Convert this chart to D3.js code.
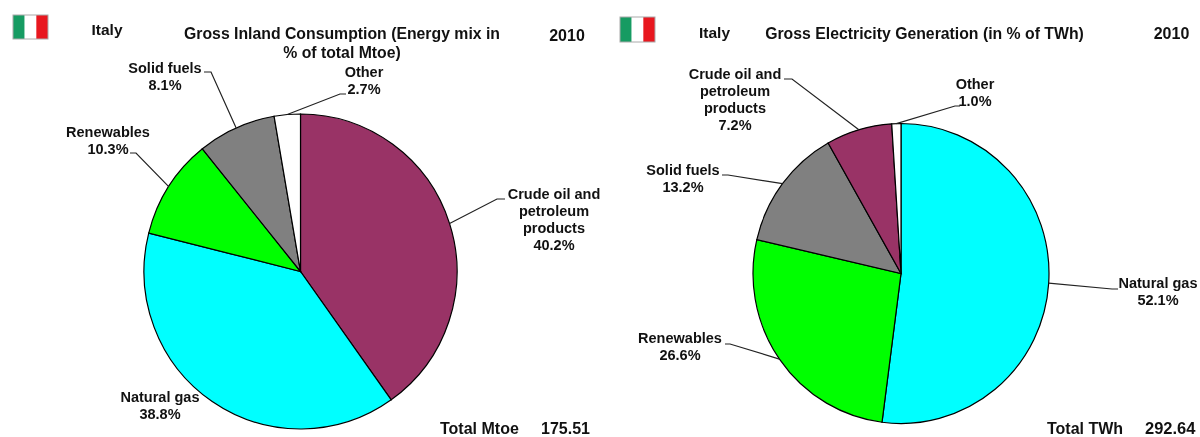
<!DOCTYPE html>
<html>
<head>
<meta charset="utf-8">
<script src="https://cdn.jsdelivr.net/npm/d3@7"></script>
<style>
  html, body { margin: 0; padding: 0; background: #fff; }
  svg { display: block; filter: blur(0.4px); }
  text { font-family: "Liberation Sans", Arial, sans-serif; font-weight: bold; fill: #111; }
</style>
</head>
<body>
<div id="chart"></div>
<script>
// values
const consumptionNames = ["Crude oil and petroleum products", "Natural gas", "Renewables", "Solid fuels", "Other"];
const consumptionValues = [40.2, 38.8, 10.3, 8.1, 2.7];
const generationNames = ["Natural gas", "Renewables", "Solid fuels", "Crude oil and petroleum products", "Other"];
const generationValues = [52.1, 26.6, 13.2, 7.2, 1.0];

const colors = d3.scaleOrdinal()
  .domain(["Crude oil and petroleum products", "Natural gas", "Renewables", "Solid fuels", "Other"])
  .range(["#993366", "#00ffff", "#00ff00", "#808080", "#ffffff"]);

// label layout, one entry per slice name
const consumptionLabels = {
  "Crude oil and petroleum products": { x: 554, y: 199, lines: ["Crude oil and", "petroleum", "products"], elbow: [[497, 199], [505, 199]] },
  "Natural gas": { x: 160, y: 402, lines: ["Natural gas"], elbow: null },
  "Renewables": { x: 108, y: 137, lines: ["Renewables"], elbow: [[136, 153], [130, 153]] },
  "Solid fuels": { x: 165, y: 73, lines: ["Solid fuels"], elbow: [[211, 72], [204, 72]] },
  "Other": { x: 364, y: 77, lines: ["Other"], elbow: [[340, 94], [346, 94]] }
};
const generationLabels = {
  "Natural gas": { x: 1158, y: 288, lines: ["Natural gas"], elbow: [[1112, 289], [1118, 289]] },
  "Renewables": { x: 680, y: 343, lines: ["Renewables"], elbow: [[730, 344], [725, 344]] },
  "Solid fuels": { x: 683, y: 175, lines: ["Solid fuels"], elbow: [[728, 175], [722, 175]] },
  "Crude oil and petroleum products": { x: 735, y: 79, lines: ["Crude oil and", "petroleum", "products"], elbow: [[792, 79], [784, 79]] },
  "Other": { x: 975, y: 89, lines: ["Other"], elbow: [[955, 106], [960, 106]] }
};

const svg = d3.select("#chart").append("svg")
  .attr("width", 1200)
  .attr("height", 437);

function drawPie(names, values, labels, cx, cy, rx, ry) {
  const r = rx;
  const pie = d3.pie().sort(null).value(d => d.value);
  const arc = d3.arc().innerRadius(0).outerRadius(r);
  const edge = d3.arc().innerRadius(r).outerRadius(r);
  const data = pie(names.map((n, i) => ({ name: n, value: values[i] })));
  const yScale = ry / rx;

  const g = svg.append("g").attr("transform", `translate(${cx},${cy}) scale(1,${yScale})`);
  g.selectAll("path")
    .data(data)
    .join("path")
    .attr("d", arc)
    .attr("fill", d => colors(d.data.name))
    .attr("stroke", "#000")
    .attr("stroke-width", 1.2);

  data.forEach(d => {
    const lab = labels[d.data.name];
    if (lab.elbow) {
      const [ex, ey] = edge.centroid(d);
      const pts = [[cx + ex, cy + ey * yScale]].concat(lab.elbow);
      svg.append("path")
        .attr("d", d3.line()(pts))
        .attr("fill", "none")
        .attr("stroke", "#222")
        .attr("stroke-width", 1.2);
    }
    const t = svg.append("text")
      .attr("text-anchor", "middle")
      .style("font-size", "14.5px");
    lab.lines.concat(d.data.value.toFixed(1) + "%").forEach((line, i) => {
      t.append("tspan").attr("x", lab.x).attr("y", lab.y + i * 17).text(line);
    });
  });
}

function drawFlag(x, y, w, h) {
  const stripes = ["#169b62", "#ffffff", "#e8171f"];
  const band = d3.scaleBand().domain(d3.range(3)).range([x, x + w]);
  svg.selectAll(null)
    .data(stripes)
    .join("rect")
    .attr("x", (d, i) => band(i))
    .attr("y", y)
    .attr("width", band.bandwidth())
    .attr("height", h)
    .attr("fill", d => d);
  svg.append("rect")
    .attr("x", x).attr("y", y).attr("width", w).attr("height", h)
    .attr("fill", "none").attr("stroke", "#aaa");
}

function note(txt, x, y, size, anchor) {
  svg.append("text")
    .attr("x", x).attr("y", y)
    .attr("text-anchor", anchor || "start")
    .style("font-size", size + "px")
    .text(txt);
}

drawPie(consumptionNames, consumptionValues, consumptionLabels, 300.5, 271.5, 156.5, 157.5);
drawPie(generationNames, generationValues, generationLabels, 901, 273.5, 148, 150);

drawFlag(13, 15, 35, 24);
drawFlag(620, 17, 35, 25);

note("Italy", 107, 35, 15.5, "middle");
note("Gross Inland Consumption  (Energy mix in", 342, 38.5, 15.8, "middle");
note("% of total Mtoe)", 342, 57.5, 15.8, "middle");
note("2010", 567, 40.5, 16, "middle");
note("Total Mtoe", 440, 433.5, 16);
note("175.51", 541, 433.5, 16);

note("Italy", 714.5, 37.5, 15.5, "middle");
note("Gross Electricity Generation  (in % of TWh)", 924.5, 38.5, 15.8, "middle");
note("2010", 1171.5, 39, 16, "middle");
note("Total TWh", 1047, 433.5, 16);
note("292.64", 1145, 433.5, 16.5);
</script>
</body>
</html>
